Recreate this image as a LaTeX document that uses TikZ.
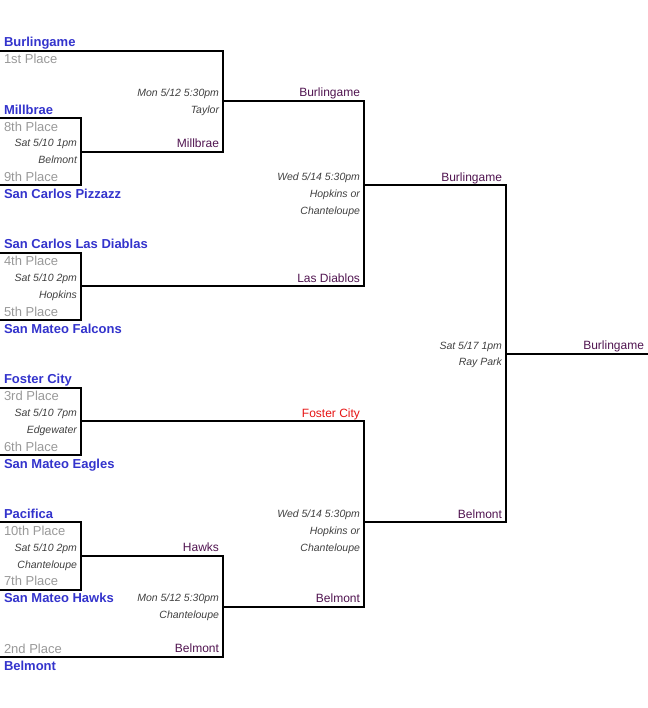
\documentclass[tikz,border=0pt]{standalone}
\usepackage{fontspec}
\setmainfont{Liberation Sans}
\definecolor{teamblue}{RGB}{51,51,204}
\definecolor{placegray}{RGB}{153,153,153}
\definecolor{infogray}{RGB}{64,64,64}
\definecolor{winpurple}{RGB}{80,20,80}
\definecolor{winred}{RGB}{230,20,20}

\begin{document}
\begin{tikzpicture}[x=0.75pt, y=-12.6375pt, line width=1.5pt,
    team/.style = {anchor=west, inner sep=0pt, text=teamblue, font=\bfseries\fontsize{9.75}{11}\selectfont, text height=7pt, text depth=0pt},
    place/.style = {anchor=west, inner sep=0pt, text=placegray, font=\fontsize{9.75}{11}\selectfont, text height=7pt, text depth=0pt},
    info/.style = {anchor=east, inner sep=0pt, text=infogray, font=\itshape\fontsize{7.875}{9}\selectfont, text height=5.6pt, text depth=0pt},
    winner/.style = {anchor=east, inner sep=0pt, text=winpurple, font=\fontsize{9}{11}\selectfont, text height=6.4pt, text depth=0pt}]
    \useasboundingbox (0,0) rectangle (648,42.02);

    % teams and seeds
    \node[team] (t1) at (3,2.5) {Burlingame};
    \node[place] (p1) at (3,3.5) {1st Place};
    \node[team] (t8) at (3,6.5) {Millbrae};
    \node[place] (p8) at (3,7.5) {8th Place};
    \node[place] (p9) at (3,10.5) {9th Place};
    \node[team] (t9) at (3,11.5) {San Carlos Pizzazz};
    \node[team] (t4) at (3,14.5) {San Carlos Las Diablas};
    \node[place] (p4) at (3,15.5) {4th Place};
    \node[place] (p5) at (3,18.5) {5th Place};
    \node[team] (t5) at (3,19.5) {San Mateo Falcons};
    \node[team] (t3) at (3,22.5) {Foster City};
    \node[place] (p3) at (3,23.5) {3rd Place};
    \node[place] (p6) at (3,26.5) {6th Place};
    \node[team] (t6) at (3,27.5) {San Mateo Eagles};
    \node[team] (t10) at (3,30.5) {Pacifica};
    \node[place] (p10) at (3,31.5) {10th Place};
    \node[place] (p7) at (3,34.5) {7th Place};
    \node[team] (t7) at (3,35.5) {San Mateo Hawks};
    \node[place] (p2) at (3,38.5) {2nd Place};
    \node[team] (t2) at (3,39.5) {Belmont};

    % games
    \node[info] (g1d) at (78,8.5) {Sat 5/10 1pm};
    \node[info] (g1f) at (78,9.5) {Belmont};
    \node[info] (g2d) at (78,16.5) {Sat 5/10 2pm};
    \node[info] (g2f) at (78,17.5) {Hopkins};
    \node[info] (g3d) at (78,24.5) {Sat 5/10 7pm};
    \node[info] (g3f) at (78,25.5) {Edgewater};
    \node[info] (g4d) at (78,32.5) {Sat 5/10 2pm};
    \node[info] (g4f) at (78,33.5) {Chanteloupe};
    \node[info] (q1d) at (220,5.5) {Mon 5/12 5:30pm};
    \node[info] (q1f) at (220,6.5) {Taylor};
    \node[info] (q2d) at (220,35.5) {Mon 5/12 5:30pm};
    \node[info] (q2f) at (220,36.5) {Chanteloupe};
    \node[info] (s1d) at (361,10.5) {Wed 5/14 5:30pm};
    \node[info] (s1f) at (361,11.5) {Hopkins or};
    \node[info] (s1g) at (361,12.5) {Chanteloupe};
    \node[info] (s2d) at (361,30.5) {Wed 5/14 5:30pm};
    \node[info] (s2f) at (361,31.5) {Hopkins or};
    \node[info] (s2g) at (361,32.5) {Chanteloupe};
    \node[info] (fd) at (503,20.5) {Sat 5/17 1pm};
    \node[info] (ff) at (503,21.5) {Ray Park};

    % winners
    \node[winner] (g1n) at (220,8.5) {Millbrae};
    \node[winner] (g2n) at (361,16.5) {Las Diablos};
    \node[winner, text=winred] (g3n) at (361,24.5) {Foster City};
    \node[winner] (g4n) at (220,32.5) {Hawks};
    \node[winner] (q1n) at (361,5.5) {Burlingame};
    \node[winner] (q2n) at (220,38.5) {Belmont};
    \node[winner] (q3n) at (361,35.5) {Belmont};
    \node[winner] (s1n) at (503,10.5) {Burlingame};
    \node[winner] (s2n) at (503,30.5) {Belmont};
    \node[winner] (fn) at (645,20.5) {Burlingame};

    % bracket corners
    \coordinate (g1a) at (0,7);
    \coordinate (g1b) at (0,11);
    \coordinate (g1w) at (81,9);
    \coordinate (g2a) at (0,15);
    \coordinate (g2b) at (0,19);
    \coordinate (g2w) at (81,17);
    \coordinate (g3a) at (0,23);
    \coordinate (g3b) at (0,27);
    \coordinate (g3w) at (81,25);
    \coordinate (g4a) at (0,31);
    \coordinate (g4b) at (0,35);
    \coordinate (g4w) at (81,33);
    \coordinate (q1a) at (0,3);
    \coordinate (q1w) at (223,6);
    \coordinate (q2a) at (0,39);
    \coordinate (q2w) at (223,36);
    \coordinate (s1w) at (364,11);
    \coordinate (s2w) at (364,31);
    \coordinate (fw) at (506,21);
    \coordinate (fe) at (648,21);

    \draw (g1a) -| (g1w) |- (g1b);
    \draw (g2a) -| (g2w) |- (g2b);
    \draw (g3a) -| (g3w) |- (g3b);
    \draw (g4a) -| (g4w) |- (g4b);
    \draw (q1a) -| (q1w) |- (g1w);
    \draw (g4w) -| (q2w) |- (q2a);
    \draw (q1w) -| (s1w) |- (g2w);
    \draw (g3w) -| (s2w) |- (q2w);
    \draw (s1w) -| (fw) |- (s2w);
    \draw (fw) -- (fe);
\end{tikzpicture}
\end{document}
